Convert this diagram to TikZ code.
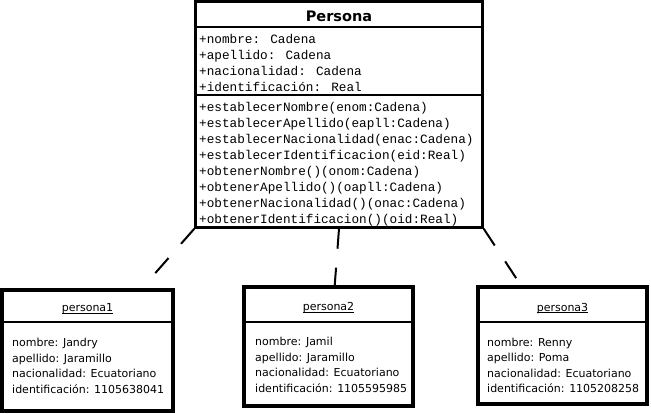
\documentclass[tikz,border=0pt]{standalone}
\usepackage{fontspec}
\setmainfont{DejaVu Sans}
\newfontfamily\codefont{Liberation Mono}
\usetikzlibrary{positioning}

\tikzset{
  classbox/.style={draw,line width=2.5pt,inner sep=0pt,minimum width=287pt,minimum height=226.25pt},
  objbox/.style={draw,line width=4pt,inner sep=0pt},
  members/.style={anchor=north west,align=left,inner sep=0pt,font=\codefont\fontsize{12.7}{16}\selectfont},
  slots/.style={anchor=north west,align=left,inner sep=0pt,font=\fontsize{11}{15.5}\selectfont},
  objname/.style={anchor=base,inner sep=0pt,font=\fontsize{11}{15.5}\selectfont},
  instance/.style={line width=2pt,dash pattern=on 20pt off 19pt}
}

\begin{document}
\begin{tikzpicture}[x=1pt,y=-1pt]
\useasboundingbox (0,0) rectangle (651,413);
\node [classbox] (persona) at (339,114.4) {};
\path (persona.north west) ++(0,26.75) coordinate (sepA);
\path (persona.north west) ++(0,95.25) coordinate (sepB);
\draw [line width=2pt] (sepA) -- (sepA -| persona.east);
\draw [line width=2pt] (sepB) -- (sepB -| persona.east);
\node [anchor=base,font=\bfseries\fontsize{14.5}{17}\selectfont] (title) at (339,21.5) {Persona};
\node [members] (attrs) at (199,32.3) {\strut+nombre: Cadena\\+apellido: Cadena\\+nacionalidad: Cadena\\+identificación: Real};
\node [members] (methods) at (199,99.8) {\strut+establecerNombre(enom:Cadena)\\+establecerApellido(eapll:Cadena)\\+establecerNacionalidad(enac:Cadena)\\+establecerIdentificacion(eid:Real)\\+obtenerNombre()(onom:Cadena)\\+obtenerApellido()(oapll:Cadena)\\+obtenerNacionalidad()(onac:Cadena)\\+obtenerIdentificacion()(oid:Real)};

\node [objbox,minimum width=171pt,minimum height=121pt] (persona1) at (87.5,350.5) {};
\node [objbox,minimum width=169pt,minimum height=119pt] (persona2) at (328.5,346.5) {};
\node [objbox,minimum width=169pt,minimum height=117pt] (persona3) at (562.5,345.5) {};
\path (persona1.north west) ++(0,34) coordinate (sep1);
\path (persona2.north west) ++(0,37) coordinate (sep2);
\path (persona3.north west) ++(0,37) coordinate (sep3);
\draw [line width=2pt] (sep1) -- (sep1 -| persona1.east);
\draw [line width=2pt] (sep2) -- (sep2 -| persona2.east);
\draw [line width=2pt] (sep3) -- (sep3 -| persona3.east);
\node [objname] (name1) at (87.5,311.5) {\underline{\smash{persona1}}};
\node [objname] (name2) at (328.5,310.5) {\underline{\smash{persona2}}};
\node [objname] (name3) at (562.5,311) {\underline{\smash{persona3}}};
\node [slots] (slots1) at (12,335.6) {\strut nombre: Jandry\\apellido: Jaramillo\\nacionalidad: Ecuatoriano\\identificación: 1105638041};
\node [slots] (slots2) at (255,334.6) {\strut nombre: Jamil\\apellido: Jaramillo\\nacionalidad: Ecuatoriano\\identificación: 1105595985};
\node [slots] (slots3) at (487,335.2) {\strut nombre: Renny\\apellido: Poma\\nacionalidad: Ecuatoriano\\identificación: 1105208258};

\path (persona.south west) ++(-40,45.5) coordinate (tip1);
\path (persona.south) ++(-4.5,59.5) coordinate (tip2);
\path (persona.south east) ++(32.5,49.5) coordinate (tip3);
\draw [instance] (persona.south west) -- (tip1);
\draw [instance] (persona.south) -- (tip2);
\draw [instance] (persona.south east) -- (tip3);
\end{tikzpicture}
\end{document}
